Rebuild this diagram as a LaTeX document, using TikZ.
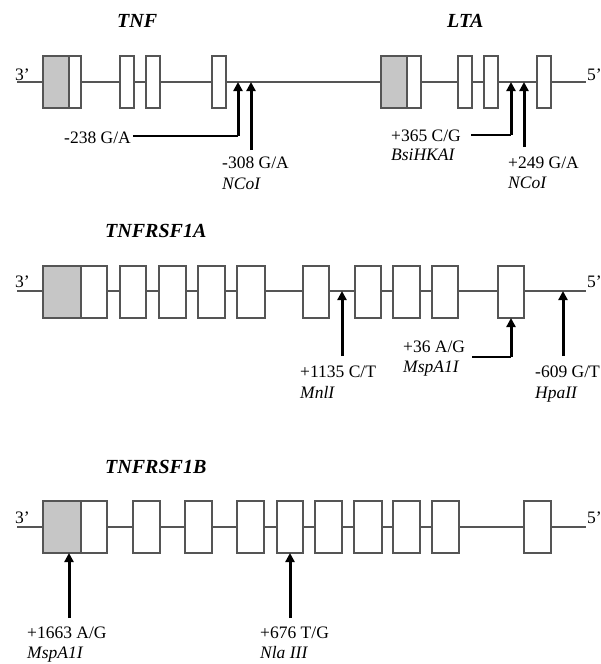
\documentclass[tikz,border=0pt]{standalone}
\usepackage{fontspec}
\setmainfont{Liberation Serif}
\usetikzlibrary{arrows.meta,positioning}
\definecolor{exonline}{RGB}{85,85,85}
\definecolor{utr}{RGB}{198,198,198}

\begin{document}
\begin{tikzpicture}[x=1pt,y=-1pt,
  every node/.style={font=\fontsize{17.5}{19}\selectfont,inner sep=0pt,anchor=base west},
  gene/.style={font=\fontsize{20}{22}\selectfont\bfseries\itshape},
  enz/.style={font=\fontsize{17.5}{19}\selectfont\itshape},
  dna/.style={draw=exonline,line width=1.5pt},
  exon/.style={draw=exonline,line width=1.6pt,fill=white},
  utrbox/.style={draw=exonline,line width=1.6pt,fill=utr},
  snp/.style={line width=3pt,-{Triangle[length=9pt,width=9pt]}},
  lead/.style={line width=1.4pt}]
\useasboundingbox (0,0) rectangle (601,664);

% TNF and LTA
\node[gene] (tnf) at (117,27) {TNF};
\node[gene] (lta) at (447,27) {LTA};
\node (p3a) at (15,80) {3'};
\node (p5a) at (587,80) {5'};
\draw[dna] (17,82) -- (586,82);
\draw[utrbox] (43,56) rectangle (69,108);
\draw[exon] (69,56) rectangle (81,108);
\draw[utrbox] (381,56) rectangle (407,108);
\draw[exon] (407,56) rectangle (421,108);
\foreach \a/\b in {120/134,146/160,212/226,458/472,484/498,537/551}
  \draw[exon] (\a,56) rectangle (\b,108);

\coordinate (s238) at (238,82);
\coordinate (s308) at (251,82);
\coordinate (s365) at (511,82);
\coordinate (s249) at (524,82);
\coordinate (k238) at (238,136);
\coordinate (t308) at (251,150);
\coordinate (k365) at (511,135);
\coordinate (t249) at (524,147);

\node (l238) at (64,143) {-238 G/A};
\node (l308) at (222,168) {-308 G/A};
\node[enz] (e308) at (222,189) {NCoI};
\node (l365) at (391,141) {+365 C/G};
\node[enz] (e365) at (391,160) {BsiHKAI};
\node (l249) at (508,168) {+249 G/A};
\node[enz] (e249) at (508,188) {NCoI};

\draw[lead] (k238 -| l238.east) ++(2,0) -- (k238);
\draw[snp] (k238) -- (s238);
\draw[snp] (t308) -- (s308);
\draw[lead] (k365 -| l365.east) ++(10,0) -- (k365);
\draw[snp] (k365) -- (s365);
\draw[snp] (t249) -- (s249);

% TNFRSF1A
\node[gene] (r1a) at (105,237) {TNFRSF1A};
\node (p3b) at (15,287) {3'};
\node (p5b) at (587,287) {5'};
\draw[dna] (17,291) -- (586,291);
\draw[utrbox] (43,266) rectangle (81,318);
\draw[exon] (81,266) rectangle (107,318);
\foreach \a/\b in {120/146,159/186,198/225,237/265,303/329,355/381,393/420,432/458,498/524}
  \draw[exon] (\a,266) rectangle (\b,318);

\coordinate (s1135) at (342,291);
\coordinate (t1135) at (342,356);
\coordinate (s36) at (511,318);
\coordinate (k36) at (511,357);
\coordinate (s609) at (563,291);
\coordinate (t609) at (563,356);

\node (l1135) at (300,377) {+1135 C/T};
\node[enz] (e1135) at (300,398) {MnlI};
\node (l36) at (403,352) {+36 A/G};
\node[enz] (e36) at (403,372) {MspA1I};
\node (l609) at (535,377) {-609 G/T};
\node[enz] (e609) at (535,398) {HpaII};

\draw[snp] (t1135) -- (s1135);
\draw[lead] (k36 -| l36.east) ++(7,0) -- (k36);
\draw[snp] (k36) -- (s36);
\draw[snp] (t609) -- (s609);

% TNFRSF1B
\node[gene] (r1b) at (105,473) {TNFRSF1B};
\node (p3c) at (15,523) {3'};
\node (p5c) at (587,523) {5'};
\draw[dna] (17,527) -- (586,527);
\draw[utrbox] (43,501) rectangle (81,553);
\draw[exon] (81,501) rectangle (107,553);
\foreach \a/\b in {133/160,185/212,237/264,277/303,315/342,354/382,393/420,432/459,524/551}
  \draw[exon] (\a,501) rectangle (\b,553);

\coordinate (s1663) at (69,553);
\coordinate (t1663) at (69,618);
\coordinate (s676) at (290,553);
\coordinate (t676) at (290,618);

\node (l1663) at (27,638) {+1663 A/G};
\node[enz] (e1663) at (27,658) {MspA1I};
\node (l676) at (260,638) {+676 T/G};
\node[enz] (e676) at (260,658) {Nla III};

\draw[snp] (t1663) -- (s1663);
\draw[snp] (t676) -- (s676);
\end{tikzpicture}
\end{document}
